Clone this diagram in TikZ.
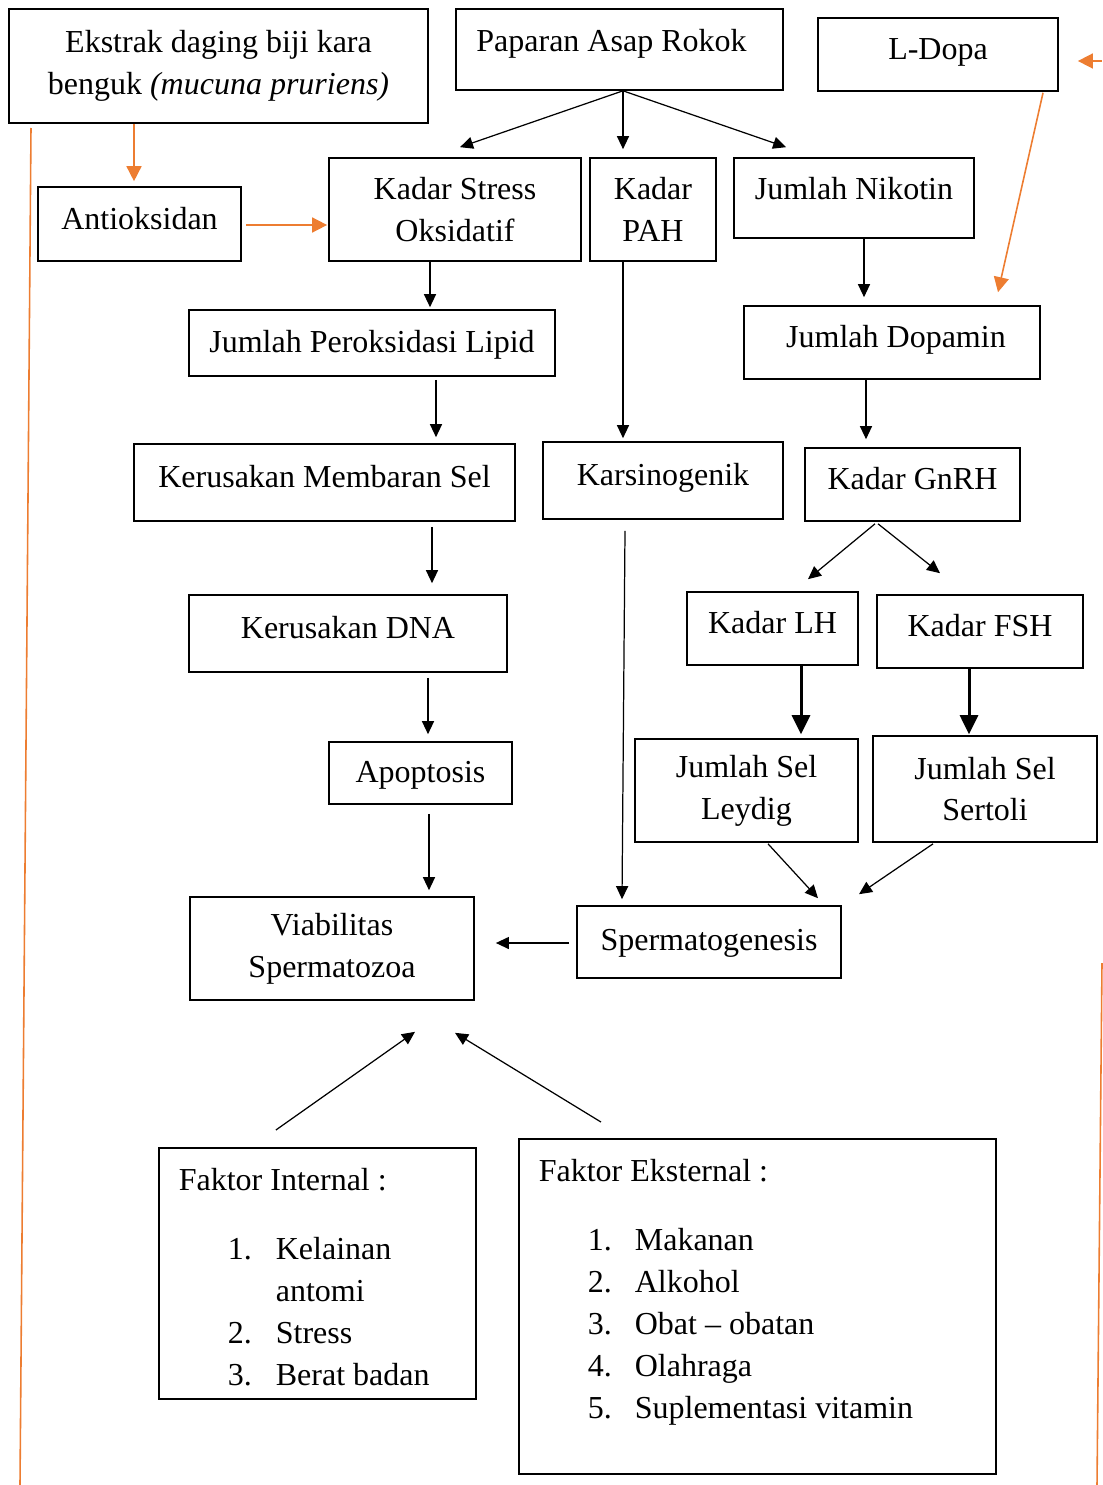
\documentclass[tikz,border=0pt]{standalone}
\usepackage{fontspec}
\setmainfont{Liberation Serif}
\usepackage{tikz}
\usetikzlibrary{calc}
\usetikzlibrary{positioning}
\usetikzlibrary{arrows.meta}
\definecolor{orng}{HTML}{ED7D31}

\begin{document}
\begin{tikzpicture}[x=0.01cm, y=-0.01cm,
		font=\fontsize{9.1}{11.9}\selectfont,
		box/.style={draw, line width=0.45pt, inner sep=0pt, align=center},
		oneline/.style={text height=0.85em, text depth=0.55em},
		arr/.style={line width=0.35pt, -{Triangle[length=0.13cm, width=0.12cm]}},
		thk/.style={line width=0.85pt, -{Triangle[length=0.19cm, width=0.18cm]}},
		org/.style={orng, line width=0.45pt, -{Triangle[length=0.15cm, width=0.15cm]}},
		faktor/.style={draw, line width=0.45pt, anchor=north west, inner sep=0.2cm}]
	\useasboundingbox (0,0) rectangle (1102,1485);

	\node[box, minimum width=4.19cm, minimum height=1.14cm] (ekstrak) at (218.5,66) {Ekstrak daging biji kara\\benguk \textit{(mucuna pruriens)}};
	\node[box, oneline, text height=0.75em, text depth=0.65em, minimum width=3.27cm, minimum height=0.81cm] (papar) at (619.5,49.5) {Paparan Asap Rokok\hspace{0.16cm}};
	\node[box, oneline, minimum width=2.40cm, minimum height=0.73cm] (ldopa) at (938,54.5) {L-Dopa};
	\node[box, oneline, minimum width=2.03cm, minimum height=0.74cm] (antiok) at (139.5,224) {Antioksidan};
	\node[box, minimum width=2.52cm, minimum height=1.03cm] (stress) at (455,209.5) {Kadar Stress\\Oksidatif};
	\node[box, minimum width=1.26cm, minimum height=1.03cm] (pah) at (653,209.5) {Kadar\\PAH};
	\node[box, oneline, text height=0.75em, text depth=0.65em, minimum width=2.40cm, minimum height=0.80cm] (nikotin) at (854,198) {Jumlah Nikotin};
	\node[box, oneline, text height=0.97em, text depth=0.43em, minimum width=3.66cm, minimum height=0.66cm] (lipid) at (372,343) {Jumlah Peroksidasi Lipid};
	\node[box, oneline, minimum width=2.96cm, minimum height=0.73cm] (dopamin) at (892,342.5) {\hspace{0.08cm}Jumlah Dopamin};
	\node[box, oneline, minimum width=3.81cm, minimum height=0.77cm] (membran) at (324.5,482.5) {Kerusakan Membaran Sel};
	\node[box, oneline, minimum width=2.40cm, minimum height=0.77cm] (karsino) at (663,480.5) {Karsinogenik};
	\node[box, oneline, minimum width=2.15cm, minimum height=0.73cm] (gnrh) at (912.5,484.5) {Kadar GnRH};
	\node[box, oneline, minimum width=3.18cm, minimum height=0.77cm] (dna) at (348,633.5) {Kerusakan DNA};
	\node[box, oneline, minimum width=1.71cm, minimum height=0.73cm] (lh) at (772.5,628.5) {Kadar LH};
	\node[box, oneline, minimum width=2.06cm, minimum height=0.73cm] (fsh) at (980,631.5) {Kadar FSH};
	\node[box, oneline, text height=0.97em, text depth=0.43em, minimum width=1.83cm, minimum height=0.62cm] (apop) at (420.5,773) {Apoptosis};
	\node[box, minimum width=2.23cm, minimum height=1.03cm] (leydig) at (746.5,790.5) {Jumlah Sel\\Leydig};
	\node[box, minimum width=2.24cm, minimum height=1.06cm] (sertoli) at (985,789) {Jumlah Sel\\Sertoli};
	\node[box, minimum width=2.84cm, minimum height=1.03cm] (viab) at (332,948.5) {Viabilitas\\Spermatozoa};
	\node[box, oneline, text height=0.95em, text depth=0.45em, minimum width=2.64cm, minimum height=0.72cm] (sperma) at (709,942) {Spermatogenesis};

	\node[faktor] (intern) at (158,1147) {\parbox[c][2.11cm][t]{2.77cm}{Faktor Internal :\par\vspace{0.28cm}%
		\hspace*{0.49cm}\begin{tabular}[t]{@{}p{0.48cm}@{}l@{}}1.&Kelainan\\&antomi\\2.&Stress\\3.&Berat badan\end{tabular}}};
	\node[faktor] (ekstern) at (518,1138) {\parbox[c][2.95cm][t]{4.37cm}{Faktor Eksternal :\par\vspace{0.28cm}%
		\hspace*{0.49cm}\begin{tabular}[t]{@{}p{0.47cm}@{}l@{}}1.&Makanan\\2.&Alkohol\\3.&Obat -- obatan\\4.&Olahraga\\5.&Suplementasi vitamin\end{tabular}}};

	% asap rokok
	\coordinate (pp) at ($(papar.south)+(3.5,0)$);
	\draw[arr] (pp) -- ($(stress.north)+(5,-10)$);
	\draw[arr] (pp) -- ($(pp |- pah.north)+(0,-8)$);
	\draw[arr] (pp) -- ($(nikotin.north west)+(53,-10)$);

	% jalur kiri
	\draw[arr] ($(stress.south)+(-25,0)$) -- ($(lipid.north)+(58,-2)$);
	\draw[arr] ($(lipid.south)+(64,3)$) -- ($(membran.north)+(111.5,-6)$);
	\draw[arr] ($(membran.south)+(107.5,5)$) -- ($(dna.north)+(84,-11)$);
	\draw[arr] ($(dna.south)+(80,5)$) -- ($(apop.north)+(7.5,-7)$);
	\draw[arr] ($(apop.south)+(8.5,9)$) -- ($(viab.north)+(97,-6)$);

	% jalur tengah
	\draw[arr] ($(pah.south)+(-30,0)$) -- ($(karsino.north)+(-40,-3)$);
	\draw[arr] ($(karsino.south)+(-38,11)$) -- ($(sperma.north)+(-87,-6)$);

	% jalur kanan
	\draw[arr] ($(nikotin.south)+(10,0)$) -- ($(dopamin.north)+(-28,-8)$);
	\draw[arr] ($(dopamin.south)+(-26,0)$) -- ($(gnrh.north)+(-46.5,-8)$);
	\draw[arr] ($(gnrh.south)+(-37.5,2)$) -- ($(lh.north)+(35.5,-12)$);
	\draw[arr] ($(gnrh.south)+(-34.5,2)$) -- ($(fsh.north)+(-40,-21)$);
	\draw[thk] ($(lh.south)+(28.5,0)$) -- ($(leydig.north)+(54.5,-4)$);
	\draw[thk] ($(fsh.south)+(-11,0)$) -- ($(sertoli.north)+(-16,-1)$);
	\draw[arr] ($(leydig.south)+(21.5,1)$) -- ($(sperma.north)+(109,-7)$);
	\draw[arr] ($(sertoli.south)+(-52,1)$) -- ($(sperma.north)+(150,-11)$);
	\draw[arr] ($(sperma.west)+(-7,1)$) -- ($(viab.east)+(21,-5.5)$);

	% faktor
	\draw[arr] ($(intern.north)+(-41.5,-17)$) -- ($(viab.south)+(83,31)$);
	\draw[arr] ($(ekstern.north)+(-156.5,-16)$) -- ($(viab.south)+(123,32)$);

	% oranye
	\draw[org] ($(ekstrak.south)+(-84.5,0)$) -- ($(antiok.north)+(-5.5,-5)$);
	\draw[org] ($(antiok.east)+(4,1)$) -- ($(stress.west)+(-1,15.5)$);
	\draw[org] ($(ldopa.south)+(105,1)$) -- ($(dopamin.north)+(106,-13)$);
	\coordinate (ldin) at (1102,61);
	\draw[org] (ldin) -- ($(ldopa.east)+(19,6.5)$);
	\coordinate (lineL1) at (31,128);
	\coordinate (lineL2) at (20,1485);
	\draw[orng, line width=0.45pt] (lineL1) -- (lineL2);
	\coordinate (lineR1) at (1102,963);
	\coordinate (lineR2) at (1097,1485);
	\draw[orng, line width=0.45pt] (lineR1) -- (lineR2);
\end{tikzpicture}
\end{document}
